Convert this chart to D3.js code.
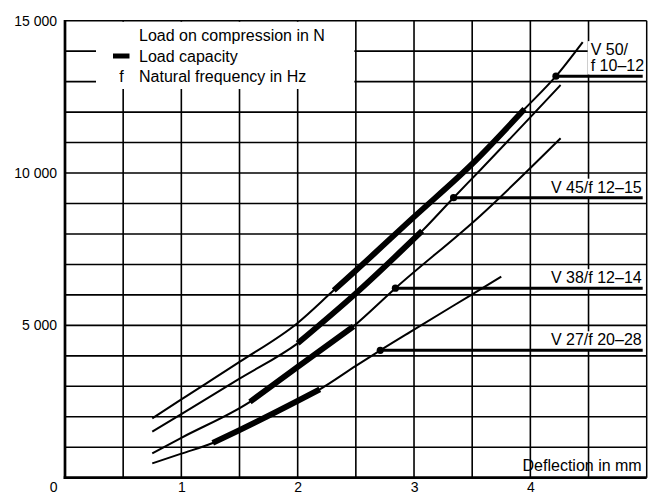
<!DOCTYPE html>
<html>
<head>
<meta charset="utf-8">
<script src="https://cdn.jsdelivr.net/npm/d3@7"></script>
<style>
  html, body { margin: 0; padding: 0; background: #fff; }
  svg { display: block; font-family: "Liberation Sans", Arial, Helvetica, sans-serif; }
</style>
</head>
<body>
<svg id="chart" width="648" height="495"></svg>
<script>
// Tick values
const deflectionTicks = [0, 1, 2, 3, 4];
const loadTicks = [5000, 10000, 15000];

// Spring types and their natural frequency ranges
const springNames = ["V 27", "V 38", "V 45", "V 50"];
const frequencyRanges = ["f 20–28", "f 12–14", "f 12–15", "f 10–12"];
const labelWrap = [false, false, false, true];

// Load (N) against deflection (mm) for each spring
const v27Deflection = [0.75, 1.0, 1.27, 1.5, 2.0, 2.19, 2.5, 2.71, 3.0, 3.5, 3.75];
const v27Load       = [470, 790, 1140, 1560, 2520, 2900, 3670, 4180, 4860, 6020, 6600];

const v38Deflection = [0.75, 1.0, 1.59, 2.0, 2.48, 2.84, 3.57, 4.26];
const v38Load       = [800, 1310, 2490, 3640, 4970, 6220, 8600, 11140];

const v45Deflection = [0.75, 1.0, 1.5, 2.0, 2.5, 3.07, 3.34, 3.57, 4.26];
const v45Load       = [1510, 2090, 3250, 4410, 6050, 8100, 9190, 10100, 12890];

const v50Deflection = [0.75, 1.0, 1.5, 2.0, 2.31, 2.5, 3.0, 3.5, 3.95, 4.22, 4.45];
const v50Load       = [1950, 2570, 3800, 5080, 6150, 6800, 8560, 10300, 12100, 13180, 14300];

// Load capacity range (deflection, mm) for each spring
const capacityFrom = [1.27, 1.59, 2.0, 2.31];
const capacityTo   = [2.19, 2.48, 3.07, 3.95];

// Operating point marked for the natural frequency
const frequencyDeflection = [2.71, 2.84, 3.34, 4.22];
const frequencyLoad       = [4180, 6220, 9190, 13180];

// Legend and axis texts
const legendTitle = "Load on compression in N";
const legendCapacity = "Load capacity";
const legendFrequency = "Natural frequency in Hz";
const xAxisTitle = "Deflection in mm";

const allDeflection = [v27Deflection, v38Deflection, v45Deflection, v50Deflection];
const allLoad = [v27Load, v38Load, v45Load, v50Load];

const series = springNames.map((name, i) => ({
  name,
  freq: frequencyRanges[i],
  wrap: labelWrap[i],
  points: allDeflection[i].map((d, j) => ({ d, load: allLoad[i][j] })),
  capFrom: capacityFrom[i],
  capTo: capacityTo[i],
  fd: frequencyDeflection[i],
  fl: frequencyLoad[i]
}));

const svg = d3.select("#chart");
const plotLeft = 65, plotRight = 646.7, plotTop = 20.7, plotBottom = 477.7;
const x = d3.scaleLinear().domain([0, 5]).range([plotLeft, plotRight]);
const y = d3.scaleLinear().domain([0, 15000]).range([plotBottom, plotTop]);
const FONT = 16;

// Grid
const grid = svg.append("g").attr("stroke", "#000").attr("stroke-width", 1.6);
grid.selectAll("line.v")
  .data(d3.range(1, 10).map(k => k * 0.5))
  .join("line")
  .attr("class", "v")
  .attr("x1", d => x(d)).attr("x2", d => x(d))
  .attr("y1", y(15000)).attr("y2", y(0));
grid.selectAll("line.h")
  .data(d3.range(1, 15).map(k => k * 1000))
  .join("line")
  .attr("class", "h")
  .attr("x1", x(0)).attr("x2", x(5))
  .attr("y1", d => y(d)).attr("y2", d => y(d));

// White panels that hold the legend and the spring labels
const masks = svg.append("g").attr("fill", "#fff");
masks.append("rect")
  .attr("x", 96).attr("y", plotTop + 1)
  .attr("width", x(2.5) - 1.5 - 96).attr("height", 89 - plotTop - 1);

// Frame: heavy left/bottom axes, light top/right border
const frame = svg.append("g").attr("stroke", "#000");
frame.append("line").attr("x1", x(0)).attr("x2", x(5)).attr("y1", y(15000)).attr("y2", y(15000)).attr("stroke-width", 1.5);
frame.append("line").attr("x1", x(5)).attr("x2", x(5)).attr("y1", y(15000)).attr("y2", y(0)).attr("stroke-width", 1.5);
frame.append("line").attr("x1", x(0)).attr("x2", x(0)).attr("y1", y(15000) - 0.7).attr("y2", y(0) + 1.3).attr("stroke-width", 2.7);
frame.append("line").attr("x1", x(0) - 1.3).attr("x2", x(5)).attr("y1", y(0)).attr("y2", y(0)).attr("stroke-width", 2.7);

// Curves
const line = d3.line().x(p => x(p.d)).y(p => y(p.load)).curve(d3.curveMonotoneX);
const curves = svg.append("g").attr("fill", "none").attr("stroke", "#000");
curves.selectAll("path.thin")
  .data(series)
  .join("path")
  .attr("class", "thin")
  .attr("d", s => line(s.points))
  .attr("stroke-width", 2);
curves.selectAll("path.cap")
  .data(series)
  .join("path")
  .attr("class", "cap")
  .attr("d", s => line(s.points.filter(p => p.d >= s.capFrom && p.d <= s.capTo)))
  .attr("stroke-width", 5.8)
  .attr("stroke-linecap", "butt");

// Natural frequency reference lines
const freqG = svg.append("g");
freqG.selectAll("line")
  .data(series)
  .join("line")
  .attr("x1", s => x(s.fd)).attr("x2", x(5) - 4)
  .attr("y1", s => y(s.fl)).attr("y2", s => y(s.fl))
  .attr("stroke", "#000").attr("stroke-width", 3);
freqG.selectAll("circle")
  .data(series)
  .join("circle")
  .attr("cx", s => x(s.fd)).attr("cy", s => y(s.fl))
  .attr("r", 3.6).attr("fill", "#000");

// Spring labels
const labels = svg.append("g").attr("font-size", FONT).attr("fill", "#000");
series.forEach(s => {
  const g = labels.append("g");
  if (s.wrap) {
    g.append("text").attr("x", x(5) - 56).attr("y", y(s.fl) - 21).text(s.name + "/");
    g.append("text").attr("x", x(5) - 56).attr("y", y(s.fl) - 5.5).text(s.freq);
  } else {
    g.append("text").attr("x", x(5) - 5).attr("y", y(s.fl) - 5)
      .attr("text-anchor", "end").text(s.name + "/" + s.freq);
  }
  const b = g.node().getBBox();
  masks.append("rect")
    .attr("x", b.x - 3).attr("y", b.y)
    .attr("width", b.width + 5).attr("height", b.height + 1);
});

// Legend
const legend = svg.append("g").attr("font-size", FONT).attr("fill", "#000");
legend.append("text").attr("x", 139).attr("y", 41).text(legendTitle);
legend.append("line").attr("x1", 113).attr("x2", 129.5).attr("y1", 56).attr("y2", 56)
  .attr("stroke", "#000").attr("stroke-width", 5);
legend.append("text").attr("x", 139).attr("y", 61.5).text(legendCapacity);
legend.append("text").attr("x", 121.5).attr("y", 81.5).attr("text-anchor", "middle").text("f");
legend.append("text").attr("x", 139).attr("y", 81.5).text(legendFrequency);

// Axis title
svg.append("text").attr("x", x(5) - 5).attr("y", 471).attr("text-anchor", "end")
  .attr("font-size", FONT).text(xAxisTitle);

// Tick labels
const fmt = v => d3.format(",")(v).replace(",", " ");
const yAxis = d3.axisLeft(y).tickValues(loadTicks).tickSize(0).tickPadding(8).tickFormat(fmt);
const yg = svg.append("g").attr("transform", `translate(${x(0)},0)`).call(yAxis);
yg.select(".domain").remove();
yg.selectAll("text").attr("font-size", 14).attr("font-family", null).attr("fill", "#000");

const xAxis = d3.axisBottom(x).tickValues(deflectionTicks).tickSize(0).tickPadding(4).tickFormat(d3.format("d"));
const xg = svg.append("g").attr("transform", `translate(0,${y(0)})`).call(xAxis);
xg.select(".domain").remove();
xg.selectAll("text").attr("font-size", 14).attr("font-family", null).attr("fill", "#000");
xg.selectAll(".tick").filter(d => d === 0).select("text").attr("text-anchor", "end").attr("x", -8);
</script>
</body>
</html>
